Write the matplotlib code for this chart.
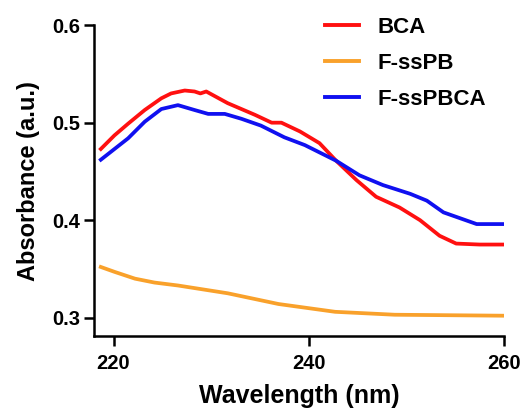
import matplotlib
matplotlib.use("Agg")
import matplotlib.pyplot as plt

plt.rcParams['font.family'] = ['Liberation Sans', 'DejaVu Sans']
plt.rcParams['font.weight'] = 'bold'

bca_x = [218.7, 220.1, 221.5, 223.2, 224.9, 225.9, 227.3, 228.3, 228.9, 229.5, 231.7, 234.5, 236.2,
         237.2, 239.1, 241.1, 242.8, 244.9, 246.9, 249.3, 251.4, 253.4, 255.1, 257.5, 259.9]
bca_y = [0.473, 0.487, 0.499, 0.513, 0.525, 0.530, 0.533, 0.532, 0.530, 0.532, 0.520, 0.508, 0.500,
         0.500, 0.491, 0.479, 0.461, 0.441, 0.424, 0.413, 0.400, 0.384, 0.376, 0.375, 0.375]

fsspb_x = [218.7, 220.1, 222.2, 224.2, 226.6, 231.7, 236.9, 242.7, 248.8, 260.0]
fsspb_y = [0.352, 0.347, 0.340, 0.336, 0.333, 0.325, 0.314, 0.306, 0.303, 0.302]

fsspbca_x = [218.7, 220.1, 221.5, 223.2, 224.9, 226.6, 228.3, 229.7, 231.4, 233.1, 235.1, 237.5,
             239.6, 242.8, 245.2, 247.6, 250.4, 252.1, 253.8, 255.5, 257.2, 259.9]
fsspbca_y = [0.462, 0.473, 0.484, 0.501, 0.514, 0.518, 0.513, 0.509, 0.509, 0.504, 0.497, 0.485,
             0.477, 0.461, 0.446, 0.436, 0.427, 0.420, 0.408, 0.402, 0.396, 0.396]

x_ticks = [220, 240, 260]
y_ticks = [0.3, 0.4, 0.5, 0.6]

fig = plt.figure(figsize=(5.25, 4.13), dpi=100)
ax = fig.add_axes([0.179, 0.186, 0.781, 0.753])

ax.plot(bca_x, bca_y, color='#FF1010', lw=2.7, label='BCA')
ax.plot(fsspb_x, fsspb_y, color='#F9A12B', lw=2.7, label='F-ssPB')
ax.plot(fsspbca_x, fsspbca_y, color='#1010F0', lw=2.7, label='F-ssPBCA')

ax.set_xlim(218, 260)
ax.set_ylim(0.281, 0.6)
ax.set_xticks(x_ticks)
ax.set_yticks(y_ticks)
ax.set_xticklabels([str(v) for v in x_ticks])
ax.set_yticklabels(['%.1f' % v for v in y_ticks])
ax.spines['top'].set_visible(False)
ax.spines['right'].set_visible(False)
for s in ['left', 'bottom']:
    ax.spines[s].set_linewidth(1.8)
ax.tick_params(axis='both', width=1.8, length=7, labelsize=14.5)
ax.tick_params(axis='x', pad=6)
ax.tick_params(axis='y', pad=3)

ax.set_xlabel('Wavelength (nm)', fontsize=18, fontweight='bold', labelpad=8)
ax.set_ylabel('Absorbance (a.u.)', fontsize=17, fontweight='bold', labelpad=9)

leg = fig.legend(loc='upper left', bbox_to_anchor=(325 / 525, 1 - 17 / 413), frameon=False,
                 fontsize=16, handlelength=1.55, handletextpad=0.8, labelspacing=0.68,
                 borderpad=0, borderaxespad=0)
for line in leg.get_lines():
    line.set_linewidth(2.8)

fig.savefig('out.png', dpi=100)
